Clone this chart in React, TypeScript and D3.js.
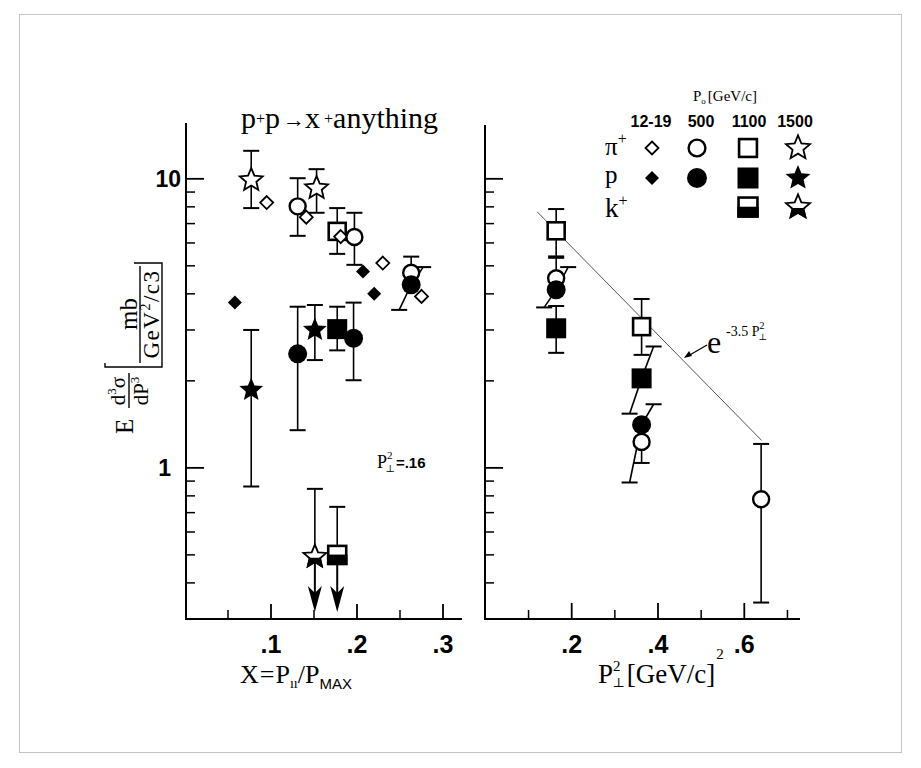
import React from "react";
import * as d3 from "d3";

type Pt = { x: number; y: number; lo?: number; hi?: number; slant?: boolean; limit?: boolean };

// ---------- Left panel: X = P∥/Pmax  (P⊥² = .16) ----------
const leftPi1219: Pt[] = [
  { x: 0.095, y: 8.28 }, { x: 0.141, y: 7.37 }, { x: 0.181, y: 6.31 }, { x: 0.23, y: 5.11 }, { x: 0.275, y: 3.92 },
];
const leftP1219: Pt[] = [{ x: 0.058, y: 3.73 }, { x: 0.207, y: 4.78 }, { x: 0.22, y: 4.0 }];
const leftPi500: Pt[] = [
  { x: 0.131, y: 8.03, lo: 6.35, hi: 10.05 },
  { x: 0.197, y: 6.29, lo: 5.04, hi: 7.63 },
  { x: 0.263, y: 4.73, hi: 5.38 },
];
const leftP500: Pt[] = [
  { x: 0.131, y: 2.48, lo: 1.35, hi: 3.61 },
  { x: 0.196, y: 2.81, lo: 2.01, hi: 3.73 },
  { x: 0.263, y: 4.3, lo: 3.52, hi: 4.95, slant: true },
];
const leftPi1100: Pt[] = [{ x: 0.177, y: 6.58, lo: 5.5, hi: 7.92 }];
const leftP1100: Pt[] = [{ x: 0.177, y: 3.02, lo: 2.55, hi: 3.61 }];
const leftK1100: Pt[] = [{ x: 0.177, y: 0.5, hi: 0.733, limit: true }];
const leftPi1500: Pt[] = [
  { x: 0.077, y: 9.9, lo: 7.92, hi: 12.5 },
  { x: 0.153, y: 9.29, lo: 7.63, hi: 10.8 },
];
const leftP1500: Pt[] = [
  { x: 0.077, y: 1.86, lo: 0.862, hi: 3.0 },
  { x: 0.151, y: 3.0, lo: 2.36, hi: 3.66 },
];
const leftK1500: Pt[] = [{ x: 0.151, y: 0.493, hi: 0.846, limit: true }];

// ---------- Right panel: P⊥² [GeV/c]² ----------
const rightPi500: Pt[] = [
  { x: 0.164, y: 4.53, hi: 5.33 },
  { x: 0.362, y: 1.23, lo: 1.04 },
  { x: 0.639, y: 0.779, lo: 0.342, hi: 1.21 },
];
const rightP500: Pt[] = [
  { x: 0.164, y: 4.13, lo: 3.59, hi: 4.95, slant: true },
  { x: 0.362, y: 1.41, lo: 0.89, hi: 1.66, slant: true },
];
const rightPi1100: Pt[] = [
  { x: 0.164, y: 6.61, lo: 5.39, hi: 7.86 },
  { x: 0.362, y: 3.08, lo: 2.46, hi: 3.84 },
];
const rightP1100: Pt[] = [
  { x: 0.164, y: 3.04, lo: 2.5, hi: 3.63 },
  { x: 0.362, y: 2.04, lo: 1.54, hi: 2.63, slant: true },
];
// e^{-3.5 P⊥²} line endpoints
const fitLine = [{ x: 0.12, y: 7.69 }, { x: 0.64, y: 1.245 }];

// ---------- Axes ----------
const yMajor = [1, 10];
const yMajorLabels = ["1", "10"];
const yMinor = [0.3, 0.4, 0.5, 0.6, 0.7, 0.8, 0.9, 2, 3, 4, 5, 6, 7, 8, 9];
const leftXMajor = [0.1, 0.2, 0.3];
const leftXLabels = [".1", ".2", ".3"];
const leftXMinor = [0.05, 0.15, 0.25];
const rightXMajor = [0.2, 0.4, 0.6];
const rightXLabels = [".2", ".4", ".6"];
const rightXMinor = [0.1, 0.3, 0.5, 0.7];

// ---------- Legend ----------
const legendEnergies = ["12-19", "500", "1100", "1500"];
const legendParticles = ["π", "p", "k"];
const legendParticleSup = ["+", "", "+"];
const legendKinds: (string | null)[][] = [
  ["diamondOpen", "circleOpen", "squareOpen", "starOpen"],
  ["diamondFilled", "circleFilled", "squareFilled", "starFilled"],
  [null, null, "squareHalf", "starHalf"],
];

const leftSeries = [
  { kind: "diamondOpen", data: leftPi1219 },
  { kind: "diamondFilled", data: leftP1219 },
  { kind: "circleOpen", data: leftPi500 },
  { kind: "circleFilled", data: leftP500 },
  { kind: "squareOpen", data: leftPi1100 },
  { kind: "squareFilled", data: leftP1100 },
  { kind: "squareHalf", data: leftK1100 },
  { kind: "starOpen", data: leftPi1500 },
  { kind: "starFilled", data: leftP1500 },
  { kind: "starHalf", data: leftK1500 },
];
const rightSeries = [
  { kind: "circleOpen", data: rightPi500 },
  { kind: "circleFilled", data: rightP500 },
  { kind: "squareOpen", data: rightPi1100 },
  { kind: "squareFilled", data: rightP1100 },
];

const SERIF = "'Liberation Serif', 'DejaVu Serif', serif";
const SANS = "'Liberation Sans', Arial, sans-serif";

function starPath(cx: number, cy: number, R: number, r: number) {
  const p = d3.path();
  for (let i = 0; i < 10; i++) {
    const a = -Math.PI / 2 + (i * Math.PI) / 5;
    const rad = i % 2 === 0 ? R : r;
    const x = cx + rad * Math.cos(a);
    const y = cy + rad * Math.sin(a);
    if (i === 0) p.moveTo(x, y);
    else p.lineTo(x, y);
  }
  p.closePath();
  return p.toString();
}

function marker(kind: string, cx: number, cy: number, key: string, k = 1) {
  switch (kind) {
    case "diamondOpen": {
      const h = 6.5 * k;
      return <path key={key} d={`M${cx},${cy - h}L${cx + h},${cy}L${cx},${cy + h}L${cx - h},${cy}Z`} fill="#fff" stroke="#000" strokeWidth={1.8} />;
    }
    case "diamondFilled": {
      const h = 7 * k;
      return <path key={key} d={`M${cx},${cy - h}L${cx + h},${cy}L${cx},${cy + h}L${cx - h},${cy}Z`} fill="#000" />;
    }
    case "circleOpen":
      return <circle key={key} cx={cx} cy={cy} r={8 * k} fill="#fff" stroke="#000" strokeWidth={2.4} />;
    case "circleFilled":
      return <circle key={key} cx={cx} cy={cy} r={9.5 * k} fill="#000" />;
    case "squareOpen": {
      const s = 8.5 * k;
      return <rect key={key} x={cx - s} y={cy - s} width={2 * s} height={2 * s} fill="#fff" stroke="#000" strokeWidth={2.6} />;
    }
    case "squareFilled": {
      const s = 10 * k;
      return <rect key={key} x={cx - s} y={cy - s} width={2 * s} height={2 * s} fill="#000" />;
    }
    case "squareHalf": {
      const s = 9 * k;
      return (
        <g key={key}>
          <rect x={cx - s} y={cy - s} width={2 * s} height={2 * s} fill="#fff" stroke="#000" strokeWidth={2.6} />
          <rect x={cx - s} y={cy + 1} width={2 * s} height={s - 1} fill="#000" stroke="#000" strokeWidth={2.6} />
        </g>
      );
    }
    case "starOpen":
      return <path key={key} d={starPath(cx, cy, 12 * k, 5.4 * k)} fill="#fff" stroke="#000" strokeWidth={1.8} strokeLinejoin="miter" />;
    case "starFilled":
      return <path key={key} d={starPath(cx, cy, 12.5 * k, 5.6 * k)} fill="#000" />;
    case "starHalf": {
      const id = `clip-${key}`;
      const R = 12 * k;
      return (
        <g key={key}>
          <clipPath id={id}>
            <rect x={cx - R - 2} y={cy + 1} width={2 * R + 4} height={R + 4} />
          </clipPath>
          <path d={starPath(cx, cy, R, 5.4 * k)} fill="#fff" stroke="#000" strokeWidth={1.8} />
          <path d={starPath(cx, cy, R, 5.4 * k)} fill="#000" stroke="#000" strokeWidth={1.8} clipPath={`url(#${id})`} />
        </g>
      );
    }
  }
  return null;
}

export default function App() {
  const yS = d3.scaleLog().domain([0.3, 15.6]).range([619, 123]);
  const xL = d3.scaleLinear().domain([0, 0.1]).range([185, 271]);
  const xR = d3.scaleLinear().domain([0, 0.2]).range([485.4, 571.7]);
  const axisY = 619;
  const CAP = 8;
  const SL = 12;

  function panel(series: { kind: string; data: Pt[] }[], xs: d3.ScaleLinear<number, number>, name: string) {
    const bars: React.ReactNode[] = [];
    const marks: { v: number; node: React.ReactNode }[] = [];
    series.forEach((s, si) => {
      s.data.forEach((d, di) => {
        const cx = xs(d.x);
        const cy = yS(d.y);
        const key = `${name}-${si}-${di}`;
        const dxU = d.slant ? SL : 0;
        const dxL = d.slant ? -SL : 0;
        if (d.hi !== undefined) {
          const yh = yS(d.hi);
          bars.push(<line key={key + "hu"} x1={cx} y1={cy} x2={cx + dxU} y2={yh} stroke="#000" strokeWidth={1.6} />);
          bars.push(<line key={key + "hc"} x1={cx + dxU - CAP} y1={yh} x2={cx + dxU + CAP} y2={yh} stroke="#000" strokeWidth={2} />);
        }
        if (d.lo !== undefined) {
          const yl = yS(d.lo);
          bars.push(<line key={key + "lu"} x1={cx} y1={cy} x2={cx + dxL} y2={yl} stroke="#000" strokeWidth={1.6} />);
          bars.push(<line key={key + "lc"} x1={cx + dxL - CAP} y1={yl} x2={cx + dxL + CAP} y2={yl} stroke="#000" strokeWidth={2} />);
        }
        if (d.limit) {
          const tip = axisY - 7;
          bars.push(<line key={key + "al"} x1={cx} y1={cy} x2={cx} y2={tip - 10} stroke="#000" strokeWidth={2} />);
          bars.push(
            <path key={key + "ah"} d={`M${cx},${tip}L${cx - 7},${tip - 26}L${cx},${tip - 19}L${cx + 7},${tip - 26}Z`} fill="#000" />
          );
        }
        marks.push({ v: d.y, node: marker(s.kind, cx, cy, key) });
      });
    });
    marks.sort((a, b) => b.v - a.v);
    return (
      <g>
        {bars}
        {marks.map((m) => m.node)}
      </g>
    );
  }

  function yAxis(x0: number, top: number, labels: boolean) {
    return (
      <g>
        <line x1={x0} y1={top} x2={x0} y2={axisY + 1} stroke="#000" strokeWidth={2} />
        {yMajor.map((v) => (
          <line key={"M" + v} x1={x0} y1={yS(v)} x2={x0 + 18} y2={yS(v)} stroke="#000" strokeWidth={1.8} />
        ))}
        {yMinor.map((v) => (
          <line key={"m" + v} x1={x0} y1={yS(v)} x2={x0 + 9} y2={yS(v)} stroke="#000" strokeWidth={1.5} />
        ))}
        {labels &&
          yMajor.map((v, i) => (
            <text key={"t" + v} x={yMajorLabels[i].length > 1 ? x0 - 5 : x0 - 15} y={yS(v) + 8} textAnchor="end" fontFamily={SANS} fontWeight="bold" fontSize={23}>
              {yMajorLabels[i]}
            </text>
          ))}
      </g>
    );
  }

  function xAxis(xs: d3.ScaleLinear<number, number>, x0: number, x1: number, major: number[], labels: string[], minor: number[], mLen: number) {
    return (
      <g>
        <line x1={x0 - 1} y1={axisY} x2={x1} y2={axisY} stroke="#000" strokeWidth={2} />
        {major.map((v) => (
          <line key={"M" + v} x1={xs(v)} y1={axisY} x2={xs(v)} y2={axisY - mLen} stroke="#000" strokeWidth={1.8} />
        ))}
        {minor.map((v) => (
          <line key={"m" + v} x1={xs(v)} y1={axisY} x2={xs(v)} y2={axisY - 9} stroke="#000" strokeWidth={1.5} />
        ))}
        {major.map((v, i) => (
          <text key={"t" + v} x={xs(v)} y={653} textAnchor="middle" fontFamily={SANS} fontWeight="bold" fontSize={25}>
            {labels[i]}
          </text>
        ))}
      </g>
    );
  }

  const fitPath = d3
    .line<{ x: number; y: number }>()
    .x((d) => xR(d.x))
    .y((d) => yS(d.y))(fitLine);

  const legendX = [652, 697, 748, 798];
  const legendHeadX = [651, 701, 749, 795];
  const legendRowY = [148, 178, 207];
  const legendBaseline = [155, 183, 217];
  const legendFont = [25, 25, 27];

  return (
    <svg width={921} height={768} style={{ position: "absolute", left: 0, top: 0, background: "#fff" }}>
      <rect x={19.5} y={14.5} width={882} height={738} fill="#fff" stroke="#c4c4c4" strokeWidth={1} />

      {/* Title */}
      <text x={241} y={128} fontFamily={SERIF} fontSize={30}>
        p<tspan fontSize={16} dy={-4}>+</tspan>
        <tspan dy={4}>p</tspan>
        <tspan fontSize={22} dx={3} dy={-1}>→</tspan>
        <tspan dy={1}>x</tspan>
        <tspan fontSize={16} dx={4} dy={-4}>+</tspan>
        <tspan dy={4}>anything</tspan>
      </text>

      {/* Y axis label (rotated) */}
      <g transform="translate(134,434) rotate(-90)" fontFamily={SERIF}>
        <text x={0} y={-1} fontSize={25}>E</text>
        <text x={43} y={-9} fontSize={21} textAnchor="middle">
          d<tspan fontSize={13} dy={-9}>3</tspan>
          <tspan dy={9}>σ</tspan>
        </text>
        <line x1={26} y1={-5} x2={61} y2={-5} stroke="#000" strokeWidth={1.4} />
        <text x={43} y={14} fontSize={21} textAnchor="middle">
          dP<tspan fontSize={13} dy={-9}>3</tspan>
        </text>
        <path d="M71,-29 L67,-29 L67,28 L171,28 L171,0" fill="none" stroke="#000" strokeWidth={1.4} />
        <text x={120} y={3} fontSize={25} textAnchor="middle">mb</text>
        <line x1={71} y1={6} x2={168} y2={6} stroke="#000" strokeWidth={1.4} />
        <text x={120} y={25} fontSize={23} textAnchor="middle" letterSpacing={1.5}>
          GeV<tspan fontSize={14} dy={-9}>2</tspan>
          <tspan dy={9}>/c3</tspan>
        </text>
      </g>

      {/* Left panel */}
      {yAxis(186, 123, true)}
      {xAxis(xL, 186, 462, leftXMajor, leftXLabels, leftXMinor, 15)}
      {panel(leftSeries, xL, "L")}
      <text x={377} y={468} fontFamily={SERIF} fontSize={18}>
        P<tspan fontSize={11} dy={-9}>2</tspan>
        <tspan fontSize={10} dx={-7} dy={13}>⊥</tspan>
        <tspan fontFamily={SANS} fontWeight="bold" fontSize={15} dy={-4} dx={1}>=.16</tspan>
      </text>
      <text x={240} y={683} fontFamily={SERIF} fontSize={26}>
        X<tspan dx={1}>=</tspan>
        <tspan dx={1}>P</tspan>
        <tspan fontSize={14} dy={5}>ıı</tspan>
        <tspan dy={-5}>/P</tspan>
        <tspan fontFamily={SANS} fontSize={15} dy={6}>MAX</tspan>
      </text>

      {/* Right panel */}
      {yAxis(485, 125, false)}
      {xAxis(xR, 485, 800, rightXMajor, rightXLabels, rightXMinor, 16)}
      <path d={fitPath || ""} fill="none" stroke="#555" strokeWidth={1} />
      {panel(rightSeries, xR, "R")}
      <text x={707} y={353} fontFamily={SERIF} fontSize={32}>e</text>
      <text x={726} y={336} fontFamily={SERIF} fontSize={14}>
        -3.5 P<tspan fontSize={10} dy={-7}>2</tspan>
        <tspan fontSize={9} dx={-6} dy={11}>⊥</tspan>
      </text>
      <line x1={707} y1={345} x2={688} y2={356} stroke="#000" strokeWidth={1.2} />
      <path d="M684,358 L689,351 L692,356 Z" fill="#000" />
      <text x={598} y={683} fontFamily={SERIF} fontSize={27}>
        P<tspan fontSize={15} dy={-12}>2</tspan>
        <tspan fontSize={13} dx={-8} dy={16}>⊥</tspan>
        <tspan dy={-4} dx={2}>[GeV/c]</tspan>
        <tspan fontSize={15} dy={-24} dx={1}>2</tspan>
      </text>

      {/* Legend */}
      <text x={693} y={101} fontFamily={SERIF} fontSize={15}>
        P<tspan fontSize={9} dy={3}>o</tspan>
        <tspan dy={-3} dx={2}>[GeV/c]</tspan>
      </text>
      {legendEnergies.map((e, i) => (
        <text key={e} x={legendHeadX[i]} y={127} textAnchor="middle" fontFamily={SANS} fontWeight="bold" fontSize={16}>
          {e}
        </text>
      ))}
      {legendParticles.map((p, r) => (
        <text key={p} x={605} y={legendBaseline[r]} fontFamily={SERIF} fontSize={legendFont[r]}>
          {p}
          {legendParticleSup[r] && (
            <tspan fontSize={16} dy={-11}>
              {legendParticleSup[r]}
            </tspan>
          )}
        </text>
      ))}
      {legendKinds.map((row, r) =>
        row.map((k, c) => (k ? marker(k, legendX[c], legendRowY[r], `lg-${r}-${c}`, c === 0 ? 1 : 1.05) : null))
      )}
    </svg>
  );
}
